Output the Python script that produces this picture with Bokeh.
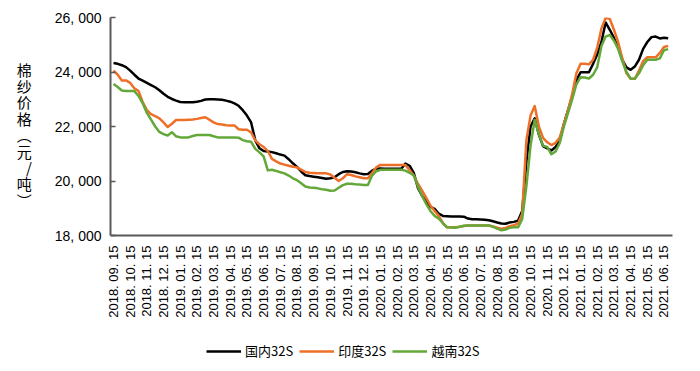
from math import pi
from bokeh.plotting import figure
from bokeh.layouts import column
from bokeh.models import FixedTicker, Legend, LegendItem, Range1d
from bokeh.embed import file_html
from bokeh.resources import INLINE

month_labels = [
    "2018. 09. 15", "2018. 10. 15", "2018. 11. 15", "2018. 12. 15",
    "2019. 01. 15", "2019. 02. 15", "2019. 03. 15", "2019. 04. 15",
    "2019. 05. 15", "2019. 06. 15", "2019. 07. 15", "2019. 08. 15",
    "2019. 09. 15", "2019. 10. 15", "2019. 11. 15", "2019. 12. 15",
    "2020. 01. 15", "2020. 02. 15", "2020. 03. 15", "2020. 04. 15",
    "2020. 05. 15", "2020. 06. 15", "2020. 07. 15", "2020. 08. 15",
    "2020. 09. 15", "2020. 10. 15", "2020. 11. 15", "2020. 12. 15",
    "2021. 01. 15", "2021. 02. 15", "2021. 03. 15", "2021. 04. 15",
    "2021. 05. 15", "2021. 06. 15",
]

series_names = ["国内32S", "印度32S", "越南32S"]

# weekly-ish samples (4 per month), yuan/ton
domestic = [
    24330, 24300, 24250, 24180, 24050, 23900, 23760, 23680,
    23600, 23520, 23440, 23330, 23200, 23090, 23010, 22950,
    22900, 22890, 22890, 22890, 22910, 22940, 22990, 23000,
    23000, 22990, 22980, 22950, 22910, 22850, 22760, 22600,
    22400, 22150, 21490, 21200, 21100, 21080, 21060, 21020,
    20970, 20930, 20800, 20650, 20520, 20350, 20210, 20180,
    20160, 20140, 20110, 20080, 20100, 20140, 20250, 20330,
    20360, 20350, 20320, 20280, 20250, 20260, 20380, 20450,
    20460, 20450, 20450, 20450, 20450, 20450, 20640, 20560,
    20300, 19750, 19450, 19250, 19050, 18980, 18800, 18720,
    18710, 18700, 18700, 18700, 18690, 18620, 18600, 18600,
    18590, 18580, 18560, 18520, 18480, 18440, 18430, 18480,
    18500, 18540, 18900, 20700, 22000, 22300, 21700, 21280,
    21200, 21120, 21250, 21480, 22100, 22600, 23100, 23700,
    23990, 23990, 23990, 24300, 24650, 25100, 25820, 25550,
    25250, 24900, 24450, 24170, 24080, 24200, 24450, 24850,
    25100, 25280, 25300, 25230, 25260, 25240,
]

india = [
    24050, 23900, 23690, 23690, 23600, 23400, 23300, 22900,
    22600, 22450, 22380, 22300, 22150, 21980, 22100, 22240,
    22240, 22240, 22250, 22260, 22280, 22310, 22340, 22250,
    22150, 22090, 22070, 22050, 22040, 22040, 21900, 21880,
    21880, 21780, 21490, 21350, 21250, 21100, 20810, 20720,
    20640, 20600, 20560, 20520, 20500, 20420, 20330, 20300,
    20290, 20280, 20280, 20280, 20240, 20120, 20000, 20100,
    20250, 20220, 20170, 20140, 20100, 20100, 20290, 20500,
    20590, 20590, 20590, 20590, 20590, 20590, 20590, 20400,
    20200, 19900, 19650, 19380, 19100, 18900, 18720, 18450,
    18300, 18300, 18300, 18320, 18350, 18370, 18370, 18370,
    18370, 18370, 18370, 18330, 18290, 18250, 18280, 18340,
    18380, 18430, 18800, 21500, 22400, 22750, 22000, 21580,
    21420, 21320, 21400, 21600, 22100, 22600, 23200, 23950,
    24300, 24300, 24280, 24450, 24900, 25600, 25980, 25950,
    25550, 25100, 24500, 23950, 23750, 23750, 24050, 24400,
    24540, 24540, 24540, 24700, 24920, 24960,
]

vietnam = [
    23560, 23450, 23320, 23300, 23300, 23300, 23120, 22850,
    22500, 22250, 22000, 21800, 21720, 21670, 21790, 21640,
    21600, 21600, 21600, 21650, 21690, 21690, 21690, 21690,
    21640, 21600, 21600, 21600, 21600, 21600, 21590, 21500,
    21460, 21440, 21180, 21050, 20900, 20390, 20410, 20370,
    20320, 20280, 20200, 20100, 20030, 19920, 19800, 19760,
    19750, 19730, 19700, 19680, 19640, 19650, 19750, 19850,
    19900, 19900, 19880, 19870, 19850, 19850, 20200, 20360,
    20410, 20410, 20410, 20410, 20410, 20410, 20380, 20300,
    20200, 19800, 19450, 19150, 18900, 18720, 18620, 18450,
    18300, 18290, 18280, 18320, 18360, 18370, 18370, 18370,
    18370, 18370, 18370, 18320, 18250, 18190, 18220, 18280,
    18300, 18300, 18600, 19800, 21300, 22250, 21700, 21300,
    21250, 20980, 21080, 21400, 22000, 22500, 23000, 23550,
    23810, 23800, 23760, 23900, 24180, 24950, 25300, 25360,
    25150, 24850, 24400, 24000, 23760, 23750, 23950, 24250,
    24450, 24450, 24450, 24500, 24800, 24840,
]

y_ticks = [18000, 20000, 22000, 24000, 26000]
y_tick_labels = ["18, 000", "20, 000", "22, 000", "24, 000", "26, 000"]
y_title = "\u3000\n棉\n纱\n价\n格\n︵\n元\n/\n吨\n︶"

samples_per_month = 4
x = [i / samples_per_month for i in range(len(domestic))]

colors = ["#000000", "#EE7028", "#64A83A"]
LATIN = "Liberation Sans"
CJK = "Noto Sans CJK SC"

p = figure(
    width=684, height=325, output_backend="svg", toolbar_location=None,
    x_range=Range1d(-0.18, 33.51), y_range=Range1d(18000, 26000),
    min_border_left=110, min_border_right=12, min_border_top=17, min_border_bottom=90,
)
p.outline_line_color = None
p.grid.visible = False
p.background_fill_color = "white"
p.border_fill_color = "white"

for vals, c in zip([domestic, india, vietnam], colors):
    p.line(x, vals, line_color=c, line_width=2.5, line_join="round")

# x axis
p.xaxis.ticker = FixedTicker(ticks=list(range(len(month_labels))))
p.xaxis.major_label_overrides = {i: lab for i, lab in enumerate(month_labels)}
p.xaxis.major_label_orientation = pi / 2
p.xaxis.major_label_text_font = LATIN
p.xaxis.major_label_text_font_size = "13px"
p.xaxis.major_label_text_color = "#000000"
p.xaxis.major_label_standoff = 4
p.xaxis.major_tick_line_color = None
p.xaxis.minor_tick_line_color = None
p.xaxis.axis_line_color = "#595959"
p.xaxis.axis_line_width = 2

# y axis
p.yaxis.ticker = FixedTicker(ticks=y_ticks)
p.yaxis.major_label_overrides = {t: lab for t, lab in zip(y_ticks, y_tick_labels)}
p.yaxis.major_label_text_font = LATIN
p.yaxis.major_label_text_font_size = "14px"
p.yaxis.major_label_text_color = "#000000"
p.yaxis.major_label_standoff = 9
p.yaxis.major_tick_in = 5
p.yaxis.major_tick_out = 0
p.yaxis.major_tick_line_color = "#595959"
p.yaxis.major_tick_line_width = 1.5
p.yaxis.minor_tick_line_color = None
p.yaxis.axis_line_color = "#595959"
p.yaxis.axis_line_width = 2
p.yaxis.axis_label = y_title
p.yaxis.axis_label_orientation = "horizontal"
p.yaxis.axis_label_text_font = CJK
p.yaxis.axis_label_text_font_size = "15px"
p.yaxis.axis_label_text_font_style = "normal"
p.yaxis.axis_label_text_color = "#000000"
p.yaxis.axis_label_text_line_height = 0.78
p.yaxis.axis_label_standoff = 20

# legend strip below the chart
lg = figure(
    width=684, height=40, output_backend="svg", toolbar_location=None,
    x_range=Range1d(0, 1), y_range=Range1d(0, 1),
    min_border=0,
)
lg.outline_line_color = None
lg.grid.visible = False
lg.axis.visible = False
lg.background_fill_color = "white"
lg.border_fill_color = "white"
legend_renderers = [
    lg.line([-5, -4], [-5, -4], line_color=c, line_width=2.5) for c in colors
]
legend = Legend(
    items=[LegendItem(label=n, renderers=[r]) for n, r in zip(series_names, legend_renderers)],
    orientation="horizontal", location=(96, 5),
    label_text_font=CJK, label_text_font_size="13px", label_text_color="#000000",
    glyph_width=35, glyph_height=16, label_height=16, label_standoff=4, spacing=6,
    padding=0, margin=0, border_line_color=None, background_fill_alpha=0,
)
lg.add_layout(legend, "center")

layout = column(p, lg, spacing=0)
open("out.html", "w").write(file_html(layout, INLINE))
